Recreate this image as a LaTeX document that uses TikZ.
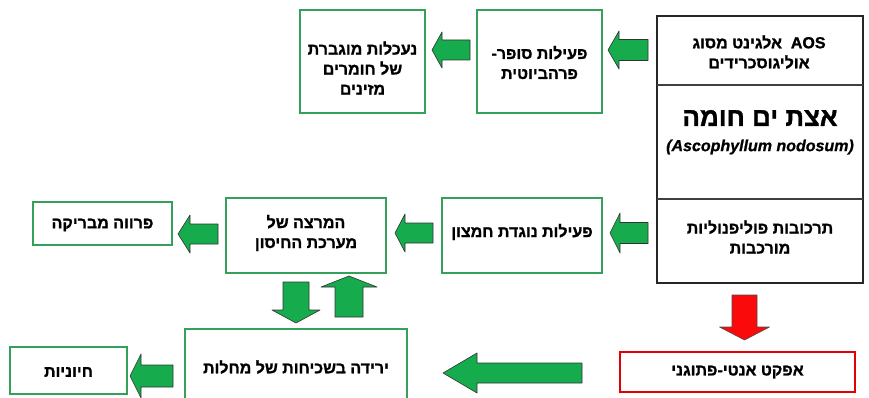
\documentclass[tikz,border=0pt]{standalone}
\usepackage{fontspec}
\setmainfont{Liberation Sans}
\newfontfamily\hebfont[Script=Hebrew, FakeBold=1.2]{Liberation Sans Bold}
\newfontfamily\latfont[FakeBold=0.8]{Liberation Sans Bold Italic}
\TeXXeTstate=1
\newcommand{\heb}[1]{\beginR#1\endR}
\definecolor{arrgreen}{RGB}{22,172,78}
\definecolor{boxgreen}{RGB}{52,160,90}
\definecolor{arrred}{RGB}{250,10,10}
\tikzset{
  gbox/.style={draw=boxgreen, line width=1.6pt, fill=white},
  rbox/.style={draw=red!90!black, line width=1.6pt, fill=white},
  txt/.style={font=\hebfont\fontsize{16}{20}\selectfont, align=center, inner sep=0pt},
  garrow/.style={fill=arrgreen, draw=black!80, line width=0.6pt, line join=round},
  rarrow/.style={fill=arrred, draw=black!70, line width=0.6pt, line join=round},
}
% horizontal block arrow: tailx, basex, tipx, cy, shaft half, head half
\newcommand{\harrow}[7][garrow]{%
  \draw[#1] (#2,{#5-#6}) -- (#3,{#5-#6}) -- (#3,{#5-#7}) -- (#4,#5) -- (#3,{#5+#7}) -- (#3,{#5+#6}) -- (#2,{#5+#6}) -- cycle;}
% vertical block arrow: cx, taily, basey, tipy, shaft half, head half
\newcommand{\varrow}[7][garrow]{%
  \draw[#1] ({#2-#6},#3) -- ({#2-#6},#4) -- ({#2-#7},#4) -- (#2,#5) -- ({#2+#7},#4) -- ({#2+#6},#4) -- ({#2+#6},#3) -- cycle;}
\begin{document}
\begin{tikzpicture}[x=1pt,y=-1pt]
\clip (0,0) rectangle (869,398);
\fill[white] (0,0) rectangle (869,398);

% main box
\draw[line width=1.4pt, black!85] (657,16) rectangle (863,283);
\draw[line width=1.2pt, black!75] (657,85) -- (863,85);
\draw[line width=1.2pt, black!75] (657,199) -- (863,199);
\node[txt] (aos) at (759,52) {\heb{\beginL AOS\endL{}\ \ אלגינט מסוג}\\\heb{אוליגוסכרידים}};
\node[txt, font=\hebfont\fontsize{26}{30}\selectfont] (alga) at (760,118) {\heb{אצת ים חומה}};
\node[txt, font=\latfont\fontsize{16}{18}\selectfont] (latin) at (760,147) {(Ascophyllum nodosum)};
\node[txt] (poly) at (760,237) {\heb{תרכובות פוליפנוליות}\\\heb{מורכבות}};

% top row
\node[gbox, minimum width=125pt, minimum height=103pt] (nut) at (362.5,61.5) {};
\node[txt] at (362.5,68) {\heb{נעכלות מוגברת}\\\heb{של חומרים}\\\heb{מזינים}};
\node[gbox, minimum width=125pt, minimum height=103pt] (super) at (539.5,61.5) {};
\node[txt] at (539.5,62.5) {\heb{פעילות סופר-}\\\heb{פרהביוטית}};

% middle row
\node[gbox, minimum width=139pt, minimum height=43pt] (fur) at (102.5,223.5) {};
\node[txt] at (102.5,225) {\heb{פרווה מבריקה}};
\node[gbox, minimum width=160pt, minimum height=75pt] (immune) at (306,235.5) {};
\node[txt] at (306,233) {\heb{המרצה של}\\\heb{מערכת החיסון}};
\node[gbox, minimum width=160pt, minimum height=75pt] (antiox) at (522,235.5) {};
\node[txt] at (522,232) {\heb{פעילות נוגדת חמצון}};

% bottom row
\node[gbox, minimum width=117pt, minimum height=47pt] (vital) at (68.5,370.5) {};
\node[txt] at (68.5,372) {\heb{חיוניות}};
\node[gbox, minimum width=222pt, minimum height=76pt] (decline) at (296,367) {};
\node[txt] at (296,367) {\heb{ירידה בשכיחות של מחלות}};
\node[rbox, minimum width=235pt, minimum height=40pt] (antipath) at (737.5,372) {};
\node[txt] at (737.5,372) {\heb{אפקט אנטי-פתוגני}};

% arrows
\harrow{470}{442}{432}{50}{10}{18}
\harrow{648}{619}{608}{50}{10.5}{19}
\harrow{218}{190}{178}{234}{10}{19}
\harrow{433}{405}{395}{233}{10}{19}
\harrow{648}{620}{610}{233}{10.5}{20}
\harrow{173}{141}{130}{376}{11}{22}
\harrow{582}{477}{443}{373}{10}{20}
\varrow[rarrow]{744.5}{295}{327}{340}{12.5}{25}
\varrow{296}{282}{310}{323}{13}{24}
\varrow{349}{317}{287}{276}{14}{28}
\end{tikzpicture}
\end{document}
